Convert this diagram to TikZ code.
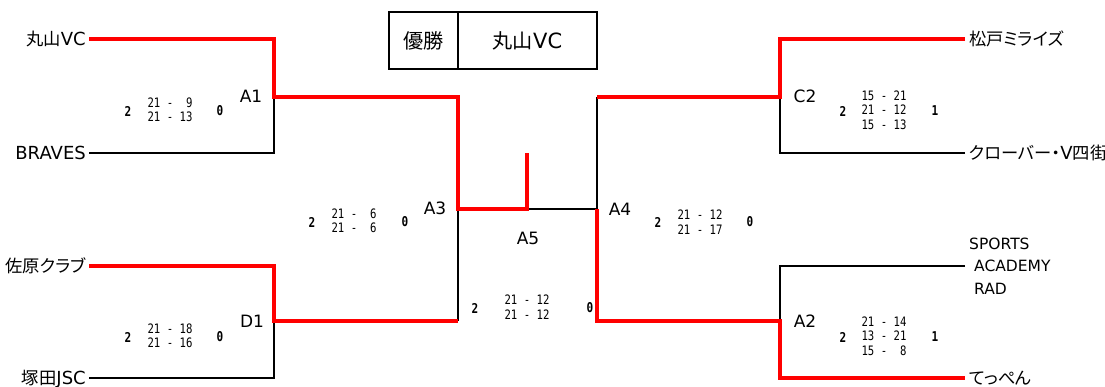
\documentclass[tikz,border=0pt]{standalone}
\usepackage{fontspec}
\setmainfont{DejaVu Sans}
\newfontfamily\cjk{Noto Sans CJK JP}[RawFeature=+palt,Scale=0.96]
\newfontfamily\scfont{DejaVu Sans Mono}[FakeStretch=0.82]
\definecolor{wred}{RGB}{255,0,0}
\tikzset{
  team/.style={inner sep=0pt, font=\fontsize{18}{20}\selectfont},
  teamr/.style={team, anchor=base west},
  teaml/.style={team, anchor=base east},
  rlabel/.style={inner sep=0pt, font=\fontsize{17}{19}\selectfont},
  scores/.style={inner sep=0pt, align=center, font=\scfont\fontsize{13}{14.5}\selectfont},
  setsw/.style={inner sep=0pt, font=\scfont\bfseries\fontsize{13.5}{15}\selectfont},
  winline/.style={draw=wred, line width=3.6pt, line join=miter},
  loseline/.style={draw=black, line width=1.6pt, line join=miter},
  champ/.style={draw=black, line width=1.8pt, inner sep=0pt, minimum height=57pt, font=\fontsize{21}{23}\selectfont}
}
\begin{document}
\begin{tikzpicture}[x=1pt,y=-1pt]
\useasboundingbox (0,0) rectangle (1105,387);
% coordinates
\coordinate (L1) at (89,39);   \coordinate (L1c) at (274,39);
\coordinate (A1p) at (274,97);
\coordinate (L2) at (89,153);  \coordinate (L2c) at (274,153);
\coordinate (L3) at (89,266);  \coordinate (L3c) at (274,266);
\coordinate (D1p) at (274,321);
\coordinate (L4) at (89,378);  \coordinate (L4c) at (274,378);
\coordinate (A3top) at (458,97); \coordinate (A3p) at (458,209); \coordinate (A3bot) at (458,321);
\coordinate (A5p) at (527,209); \coordinate (A5top) at (527,153);
\coordinate (A4top) at (597,97); \coordinate (A4p) at (597,209); \coordinate (A4bot) at (597,321);
\coordinate (R1) at (965,39);  \coordinate (R1c) at (780,39);
\coordinate (C2p) at (780,97);
\coordinate (R2) at (965,153); \coordinate (R2c) at (780,153);
\coordinate (R3) at (965,266); \coordinate (R3c) at (780,266);
\coordinate (A2p) at (780,321);
\coordinate (R4) at (965,378); \coordinate (R4c) at (780,378);

% champion box
\node[champ, minimum width=69pt] (champL) at (423.5,40.5) {{\cjk 優勝}};
\node[champ, minimum width=139pt] (champR) at (527.5,40.5) {{\cjk 丸山}VC};

% team names
\node[teaml] (t1) at (86,45.5) {{\cjk 丸山}VC};
\node[teaml] (t2) at (86,159.5) {BRAVES};
\node[teaml] (t3) at (86,272.5) {{\cjk 佐原クラブ}};
\node[teaml] (t4) at (86,384.5) {{\cjk 塚田}JSC};
\node[teamr] (t5) at (969,45.5) {{\cjk 松戸ミライズ}};
\node[teamr] (t6) at (969,159.5) {{\cjk クローバー・}V{\cjk 四街道}};
\node[inner sep=0pt, align=left, anchor=west, font=\fontsize{15.5}{22.5}\selectfont] (t7) at (969,266) {SPORTS\\\hspace*{5pt}ACADEMY\\\hspace*{5pt}RAD};
\node[teamr] (t8) at (969,384.5) {{\cjk てっぺん}};

% losing lines
\draw[loseline] (L2) -- (L2c) -- (A1p);
\draw[loseline] (L4) -- (L4c) -- (D1p);
\draw[loseline] (A3bot) -- (A3p);
\draw[loseline] (A5p) -- (A4p) -- (A4top);
\draw[loseline] (R2) -- (R2c) -- (C2p);
\draw[loseline] (R3) -- (R3c) -- (A2p);

% winning lines
\draw[winline] (L1) -- (L1c) -- (A1p) -- (A3top) -- (A3p) -- (A5p) -- (A5top);
\draw[winline] (L3) -- (L3c) -- (D1p) -- (A3bot);
\draw[winline] (R1) -- (R1c) -- (C2p) -- (A4top);
\draw[winline] (A4p) -- (A4bot) -- (A2p) -- (R4c) -- (R4);

% round labels
\node[rlabel] (A1) at (251,96) {A1};
\node[rlabel] (D1) at (252,321) {D1};
\node[rlabel] (A3) at (435,208) {A3};
\node[rlabel] (A5) at (528,238) {A5};
\node[rlabel] (A4) at (620,209) {A4};
\node[rlabel] (C2) at (805,96) {C2};
\node[rlabel] (A2) at (805,321) {A2};

% scores
\node[setsw] (A1w) at (128,111) {2};
\node[scores] (A1s) at (170,110) {21 - \phantom{1}9\\21 - 13};
\node[setsw] (A1l) at (220,111) {0};

\node[setsw] (D1w) at (128,337) {2};
\node[scores] (D1s) at (170,336) {21 - 18\\21 - 16};
\node[setsw] (D1l) at (220,337) {0};

\node[setsw] (A3w) at (312,222) {2};
\node[scores] (A3s) at (354,221) {21 - \phantom{1}6\\21 - \phantom{1}6};
\node[setsw] (A3l) at (405,222) {0};

\node[setsw] (A4w) at (658,222) {2};
\node[scores] (A4s) at (700,222) {21 - 12\\21 - 17};
\node[setsw] (A4l) at (750,222) {0};

\node[setsw] (A5w) at (475,308) {2};
\node[scores] (A5s) at (527,307) {21 - 12\\21 - 12};
\node[setsw] (A5l) at (590,308) {0};

\node[setsw] (C2w) at (843,111) {2};
\node[scores] (C2s) at (884,110) {15 - 21\\21 - 12\\15 - 13};
\node[setsw] (C2l) at (935,111) {1};

\node[setsw] (A2w) at (843,337) {2};
\node[scores] (A2s) at (884,336) {21 - 14\\13 - 21\\15 - \phantom{1}8};
\node[setsw] (A2l) at (935,337) {1};
\end{tikzpicture}
\end{document}
